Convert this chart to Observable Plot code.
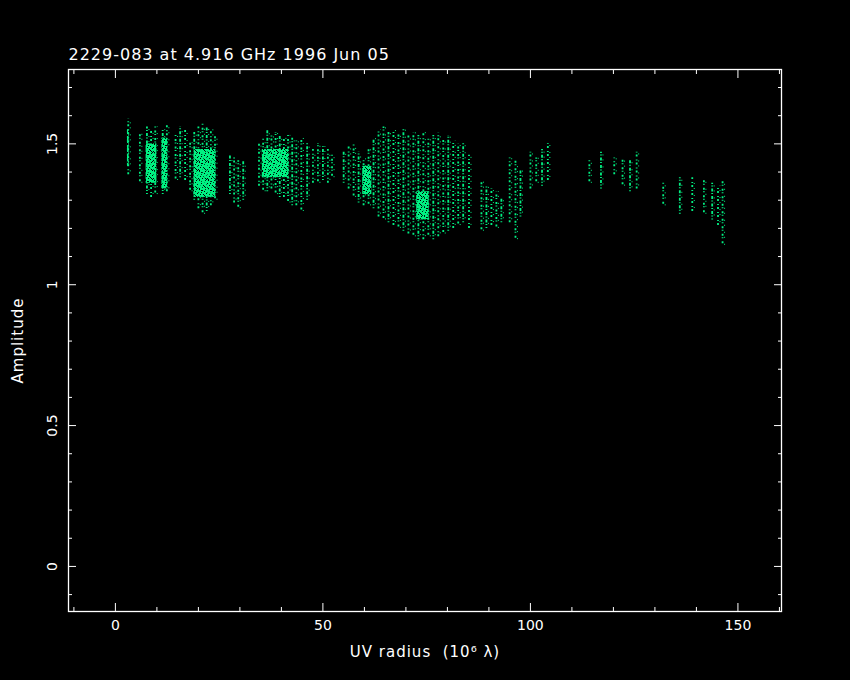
<!DOCTYPE html>
<html><head><meta charset="utf-8">
<script src="https://cdn.jsdelivr.net/npm/d3@7"></script>
<script src="https://cdn.jsdelivr.net/npm/@observablehq/plot@0.6"></script>
<style>html,body{margin:0;padding:0;background:#000;} svg{display:block}</style>
</head><body><div id="chart"></div>
<script>
const title = "2229-083 at 4.916 GHz 1996 Jun 05";
const xLabel = "UV radius\u00a0\u00a0(10\u2076 \u03bb)";
const yLabel = "Amplitude";
const xMajorTicks = [0, 50, 100, 150];
const xMinorTicks = [-10, 10, 20, 30, 40, 60, 70, 80, 90, 110, 120, 130, 140, 160];
const yMajorTicks = [0, 0.5, 1, 1.5];
const yMinorTicks = [-0.1, 0.1, 0.2, 0.3, 0.4, 0.6, 0.7, 0.8, 0.9, 1.1, 1.2, 1.3, 1.4, 1.6, 1.7];

// vertical streaks of visibilities: UV radius, lowest and highest amplitude
const stripeUV = [3.1, 5.9, 7.6, 8.6, 9.6, 11.4, 12.4, 14.5, 15.6, 16.8, 18.0, 19.0, 20.0, 21.0, 22.0, 23.0, 24.0,
  27.6, 28.6, 29.6, 30.8, 34.6, 35.6, 36.6, 37.6, 38.6, 39.6, 40.6, 41.6, 42.6, 43.6, 44.8, 46.2, 47.6, 48.8, 50.0, 51.2, 52.2,
  55.0, 56.2, 57.4, 58.6, 59.8, 61.0, 62.2, 63.4, 64.6, 65.8, 67.0, 68.2, 69.4, 70.6, 71.8, 73.0, 74.2, 75.4, 76.6, 77.8,
  79.0, 80.2, 81.4, 82.6, 83.8, 85.2, 88.2, 89.4, 90.6, 91.8, 93.0, 95.0, 96.4, 97.6, 100.0, 101.4, 102.8, 104.2,
  114.2, 117.0, 120.2, 122.2, 124.0, 125.6, 132.0, 136.0, 139.0, 141.8, 143.8, 145.2, 146.3];
const stripeAmpLow = [1.39, 1.36, 1.32, 1.31, 1.32, 1.32, 1.33, 1.37, 1.38, 1.37, 1.33, 1.30, 1.27, 1.25, 1.26, 1.28, 1.30,
  1.32, 1.29, 1.27, 1.30, 1.35, 1.33, 1.33, 1.34, 1.32, 1.31, 1.31, 1.29, 1.28, 1.28, 1.26, 1.30, 1.36, 1.36, 1.37, 1.36, 1.38,
  1.36, 1.34, 1.31, 1.29, 1.28, 1.28, 1.27, 1.24, 1.23, 1.22, 1.21, 1.20, 1.19, 1.18, 1.17, 1.16, 1.16, 1.17, 1.16, 1.17,
  1.18, 1.19, 1.20, 1.21, 1.22, 1.20, 1.19, 1.20, 1.21, 1.20, 1.22, 1.22, 1.16, 1.24, 1.34, 1.36, 1.35, 1.37,
  1.36, 1.34, 1.39, 1.35, 1.33, 1.34, 1.28, 1.25, 1.26, 1.25, 1.23, 1.21, 1.14];
const stripeAmpHigh = [1.59, 1.54, 1.56, 1.55, 1.56, 1.55, 1.57, 1.53, 1.56, 1.55, 1.51, 1.54, 1.56, 1.57, 1.56, 1.55, 1.53,
  1.46, 1.45, 1.44, 1.44, 1.50, 1.52, 1.55, 1.53, 1.54, 1.53, 1.52, 1.53, 1.52, 1.51, 1.52, 1.50, 1.48, 1.50, 1.49, 1.48, 1.46,
  1.47, 1.49, 1.50, 1.47, 1.45, 1.48, 1.52, 1.55, 1.56, 1.54, 1.55, 1.54, 1.55, 1.53, 1.54, 1.53, 1.54, 1.52, 1.53, 1.54,
  1.52, 1.53, 1.51, 1.50, 1.50, 1.46, 1.37, 1.35, 1.34, 1.33, 1.31, 1.45, 1.44, 1.41, 1.47, 1.45, 1.48, 1.50,
  1.44, 1.47, 1.45, 1.45, 1.44, 1.47, 1.36, 1.38, 1.38, 1.37, 1.36, 1.35, 1.37];

// densest clumps of points
const coreUVStart = [2.9, 7.4, 11.2, 19.0, 35.4, 59.6, 72.6];
const coreUVEnd = [3.3, 10.0, 12.6, 24.2, 41.8, 61.8, 75.6];
const coreAmpLow = [1.42, 1.36, 1.34, 1.31, 1.38, 1.32, 1.23];
const coreAmpHigh = [1.55, 1.50, 1.52, 1.48, 1.48, 1.42, 1.33];

const green = "#00f082";
const stripes = stripeUV.map((u, i) => ({u, lo: stripeAmpLow[i], hi: stripeAmpHigh[i], k: i % 3}));
const cores = coreUVStart.map((u, i) => ({u1: u, u2: coreUVEnd[i], lo: coreAmpLow[i], hi: coreAmpHigh[i]}));
const dashes = ["2,2,1,3", "1,1.5,2,3", "3,2,1,1.5"];

const font = "DejaVu Sans";
const chart = Plot.plot({
  width: 850,
  height: 680,
  marginLeft: 68,
  marginRight: 69,
  marginTop: 69,
  marginBottom: 69,
  style: {background: "#000", color: "#fff", fontFamily: font, fontSize: "14px"},
  x: {domain: [-11.3, 160.5]},
  y: {domain: [-0.16, 1.764]},
  marks: [
    Plot.rect(cores, {x1: "u1", x2: "u2", y1: "lo", y2: "hi", fill: "url(#speckle)"}),
    ...dashes.map((d, j) => Plot.ruleX(stripes.filter(s => s.k === j), {x: "u", y1: "lo", y2: "hi", stroke: green, strokeWidth: 1.8, strokeDasharray: d, strokeDashoffset: j})),
    ...dashes.map((d, j) => Plot.ruleX(stripes.filter(s => s.k === j), {x: "u", y1: "lo", y2: "hi", dx: 2, stroke: green, strokeWidth: 1, strokeDasharray: "1,4,1,6", strokeDashoffset: 3 * j + 2})),
    Plot.frame({stroke: "#fff", strokeWidth: 1.3}),
    Plot.axisX({anchor: "bottom", ticks: xMajorTicks, tickSize: 0, tickPadding: 9, label: null, tickFormat: d => String(d), fill: "#fff", fontSize: 14}),
    Plot.axisX({anchor: "bottom", ticks: xMajorTicks, tickSize: -8, text: null, label: null, stroke: "#fff"}),
    Plot.axisX({anchor: "bottom", ticks: xMinorTicks, tickSize: -4, text: null, label: null, stroke: "#fff"}),
    Plot.axisX({anchor: "top", ticks: xMajorTicks, tickSize: -8, text: null, label: null, stroke: "#fff"}),
    Plot.axisX({anchor: "top", ticks: xMinorTicks, tickSize: -4, text: null, label: null, stroke: "#fff"}),
    Plot.axisY({anchor: "left", ticks: yMajorTicks, tickSize: 0, tickPadding: 16, rotate: -90, textAnchor: "middle", label: null, tickFormat: d => String(d), fill: "#fff", fontSize: 14}),
    Plot.axisY({anchor: "left", ticks: yMajorTicks, tickSize: -8, text: null, label: null, stroke: "#fff"}),
    Plot.axisY({anchor: "left", ticks: yMinorTicks, tickSize: -4, text: null, label: null, stroke: "#fff"}),
    Plot.axisY({anchor: "right", ticks: yMajorTicks, tickSize: -8, text: null, label: null, stroke: "#fff"}),
    Plot.axisY({anchor: "right", ticks: yMinorTicks, tickSize: -4, text: null, label: null, stroke: "#fff"}),
    Plot.text([title], {frameAnchor: "top-left", textAnchor: "start", lineAnchor: "bottom", dy: -10, fill: "#fff", fontSize: 16}),
    Plot.text([xLabel], {frameAnchor: "bottom", textAnchor: "middle", lineAnchor: "middle", dy: 41, fill: "#fff", fontSize: 15}),
    Plot.text([yLabel], {frameAnchor: "left", textAnchor: "middle", lineAnchor: "middle", dx: -50, rotate: -90, fill: "#fff", fontSize: 15})
  ]
});
// speckled fill for the dense clumps
const defs = d3.select(chart).insert("defs", ":first-child");
const pat = defs.append("pattern").attr("id", "speckle").attr("patternUnits", "userSpaceOnUse")
  .attr("width", 9).attr("height", 9);
pat.append("rect").attr("width", 9).attr("height", 9).attr("fill", green);
[[1, 0], [4, 1], [7, 0], [0, 3], [3, 3], [6, 2], [8, 4], [2, 5], [5, 5], [0, 7], [4, 7], [7, 7], [1, 8], [6, 6], [3, 1], [8, 8]]
  .forEach(([px, py]) =>
    pat.append("rect").attr("x", px).attr("y", py).attr("width", 1).attr("height", 1).attr("fill", "#000"));
d3.select(chart).selectAll("text").filter(function () {
  const t = this.textContent;
  return t === title || t === xLabel || t === yLabel;
}).attr("letter-spacing", "1");
document.getElementById("chart").append(chart);
</script>
</body></html>
